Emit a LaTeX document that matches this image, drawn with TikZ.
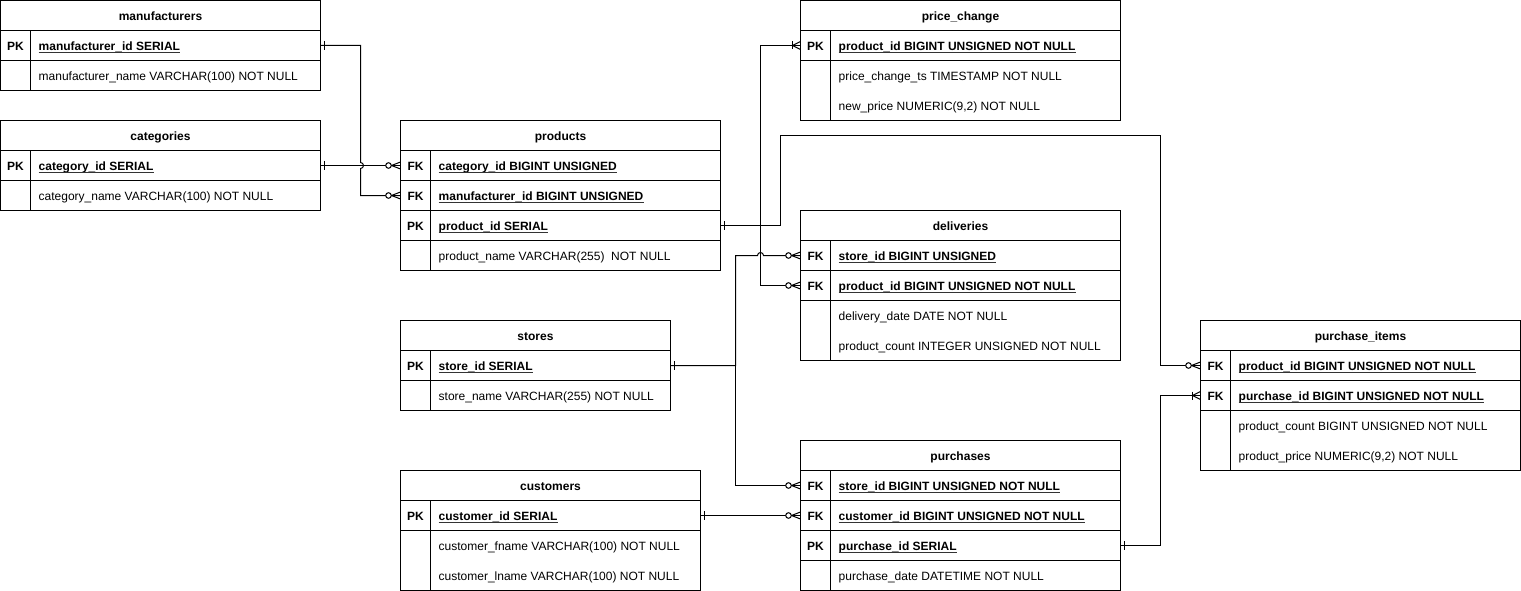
\documentclass[tikz,border=0pt]{standalone}
\usepackage{fontspec}
\setmainfont{Liberation Sans}
\usetikzlibrary{calc}
\newcommand{\fs}{\fontsize{12}{14}\selectfont}
\tikzset{
  cell/.style={draw, line width=1pt, minimum height=30pt, inner sep=0pt, outer sep=0pt},
  cellii/.style={cell, minimum height=60pt},
  txt/.style={inner sep=0pt, font=\fs},
  btxt/.style={inner sep=0pt, font=\fs\bfseries},
  conn/.style={line width=1pt},
  mk/.style={line width=1pt},
}
% header: name, x, y, width, title
\newcommand{\erhead}[5]{%
  \node[cell, minimum width=#4pt, anchor=north west] (#1) at (#2,#3) {};
  \node[btxt, anchor=base] (#1-t) at ($(#1.center)+(0,5.2)$) {#5};}
% key row: name, x, y, value width, key, text
\newcommand{\erkey}[6]{%
  \node[cell, minimum width=30pt, anchor=north west] (#1-k) at (#2,#3) {};
  \node[btxt, anchor=base] (#1-kt) at ($(#1-k.center)+(0,5.2)$) {#5};
  \node[cell, minimum width=#4pt, anchor=north west] (#1) at (#1-k.north east) {};
  \node[btxt, anchor=base west] (#1-t) at ($(#1.west)+(8,5.2)$) {#6};
  \draw[line width=0.9pt, black!80] ($(#1-t.base west)+(0,2.2)$) -- ($(#1-t.base east)+(0,2.2)$);}
% one-line attribute row: name, x, y, value width, text
\newcommand{\erattr}[5]{%
  \node[cell, minimum width=30pt, anchor=north west] (#1-k) at (#2,#3) {};
  \node[cell, minimum width=#4pt, anchor=north west] (#1) at (#1-k.north east) {};
  \node[txt, anchor=base west] (#1-t) at ($(#1.west)+(8,5.2)$) {#5};}
% two-line attribute row: name, x, y, value width, text1, text2
\newcommand{\erattrii}[6]{%
  \node[cellii, minimum width=30pt, anchor=north west] (#1-k) at (#2,#3) {};
  \node[cellii, minimum width=#4pt, anchor=north west] (#1) at (#1-k.north east) {};
  \node[txt, anchor=base west] (#1-ta) at ($(#1.north west)+(8,20.2)$) {#5};
  \node[txt, anchor=base west] (#1-tb) at ($(#1.north west)+(8,50.2)$) {#6};}
% markers
\newcommand{\zmany}[1]{%
  \draw[mk] ($(#1)+(-9,0)$) -- ($(#1)+(0,-3.5)$) ($(#1)+(-9,0)$) -- ($(#1)+(0,3.5)$);
  \draw[mk, fill=white] ($(#1)+(-12,0)$) circle[radius=2.8pt];}
\newcommand{\omany}[1]{%
  \draw[mk] ($(#1)+(-8,0)$) -- ($(#1)+(0,-4)$) ($(#1)+(-8,0)$) -- ($(#1)+(0,4)$);
  \draw[mk] ($(#1)+(-8,-4)$) -- ($(#1)+(-8,4)$);}
\newcommand{\onetick}[1]{%
  \draw[mk] ($(#1)+(4,-4.5)$) -- ($(#1)+(4,4.5)$);}
\begin{document}
\begin{tikzpicture}[x=1pt, y=-1pt]
\useasboundingbox (-0.5,-0.5) rectangle (1520.5,590.5);

% manufacturers
\erhead{man}{0}{0}{320}{manufacturers}
\erkey{man-pk}{0}{30}{290}{PK}{manufacturer\_id SERIAL}
\erattr{man-a}{0}{60}{290}{manufacturer\_name VARCHAR(100) NOT NULL}

% categories
\erhead{cat}{0}{120}{320}{categories}
\erkey{cat-pk}{0}{150}{290}{PK}{category\_id SERIAL}
\erattr{cat-a}{0}{180}{290}{category\_name VARCHAR(100) NOT NULL}

% products
\erhead{prd}{400}{120}{320}{products}
\erkey{prd-cat}{400}{150}{290}{FK}{category\_id BIGINT UNSIGNED}
\erkey{prd-mf}{400}{180}{290}{FK}{manufacturer\_id BIGINT UNSIGNED}
\erkey{prd-pk}{400}{210}{290}{PK}{product\_id SERIAL}
\erattr{prd-a}{400}{240}{290}{product\_name VARCHAR(255)~ NOT NULL}

% price_change
\erhead{pc}{800}{0}{320}{price\_change}
\erkey{pc-pk}{800}{30}{290}{PK}{product\_id BIGINT UNSIGNED NOT NULL}
\erattrii{pc-a}{800}{60}{290}{price\_change\_ts TIMESTAMP NOT NULL}{new\_price NUMERIC(9,2) NOT NULL}

% deliveries
\erhead{del}{800}{210}{320}{deliveries}
\erkey{del-store}{800}{240}{290}{FK}{store\_id BIGINT UNSIGNED}
\erkey{del-prod}{800}{270}{290}{FK}{product\_id BIGINT UNSIGNED NOT NULL}
\erattrii{del-a}{800}{300}{290}{delivery\_date DATE NOT NULL}{product\_count INTEGER UNSIGNED NOT NULL}

% stores
\erhead{st}{400}{320}{270}{stores}
\erkey{st-pk}{400}{350}{240}{PK}{store\_id SERIAL}
\erattr{st-a}{400}{380}{240}{store\_name VARCHAR(255) NOT NULL}

% customers
\erhead{cus}{400}{470}{300}{customers}
\erkey{cus-pk}{400}{500}{270}{PK}{customer\_id SERIAL}
\erattrii{cus-a}{400}{530}{270}{customer\_fname VARCHAR(100) NOT NULL}{customer\_lname VARCHAR(100) NOT NULL}

% purchases
\erhead{pur}{800}{440}{320}{purchases}
\erkey{pur-store}{800}{470}{290}{FK}{store\_id BIGINT UNSIGNED NOT NULL}
\erkey{pur-cust}{800}{500}{290}{FK}{customer\_id BIGINT UNSIGNED NOT NULL}
\erkey{pur-pk}{800}{530}{290}{PK}{purchase\_id SERIAL}
\erattr{pur-a}{800}{560}{290}{purchase\_date DATETIME NOT NULL}

% purchase_items
\erhead{pi}{1200}{320}{320}{purchase\_items}
\erkey{pi-prod}{1200}{350}{290}{FK}{product\_id BIGINT UNSIGNED NOT NULL}
\erkey{pi-pur}{1200}{380}{290}{FK}{purchase\_id BIGINT UNSIGNED NOT NULL}
\erattrii{pi-a}{1200}{410}{290}{product\_count BIGINT UNSIGNED NOT NULL}{product\_price NUMERIC(9,2) NOT NULL}

% ---- connectors ----
% manufacturers -> products (hop over categories line)
\coordinate (a1) at ($(man-pk.east)+(40,0)$);
\draw[conn] (man-pk.east) -- (a1) -- ($(a1 |- cat-pk.east)+(0,-3)$)
  arc[start angle=90, end angle=-90, radius=3pt] -- (a1 |- prd-mf-k.west) -- (prd-mf-k.west);
% categories -> products
\draw[conn] (cat-pk.east) -- (prd-cat-k.west);
% products -> price_change / deliveries / purchase_items
\coordinate (c1) at ($(prd-pk.east)+(40,0)$);
\coordinate (e1) at ($(prd-pk.east)+(60,0)$);
\coordinate (e3) at ($(pi-prod-k.west)+(-40,0)$);
\draw[conn] (prd-pk.east) -- (e1) -- (e1 |- prd.center) -- (prd.center -| e3) -- (e3) -- (pi-prod-k.west);
\draw[conn] (c1) |- (pc-pk-k.west);
\draw[conn] (c1) |- (del-prod-k.west);
% stores -> deliveries (hop) / purchases
\coordinate (f1) at ($(st-pk.east)+(65,0)$);
\draw[conn] (st-pk.east) -- (f1) -- (f1 |- del-store-k.west) -- ($(c1 |- del-store-k.west)+(-3,0)$)
  arc[start angle=180, end angle=0, radius=3pt] -- (del-store-k.west);
\draw[conn] (f1) |- (pur-store-k.west);
% customers -> purchases
\draw[conn] (cus-pk.east) -- (pur-cust-k.west);
% purchases -> purchase_items
\coordinate (i1) at ($(pur-pk.east)+(40,0)$);
\draw[conn] (pur-pk.east) -- (i1) |- (pi-pur-k.west);

% ---- markers ----
\onetick{man-pk.east}
\onetick{cat-pk.east}
\onetick{prd-pk.east}
\onetick{st-pk.east}
\onetick{cus-pk.east}
\onetick{pur-pk.east}
\zmany{prd-cat-k.west}
\zmany{prd-mf-k.west}
\omany{pc-pk-k.west}
\zmany{del-store-k.west}
\zmany{del-prod-k.west}
\zmany{pi-prod-k.west}
\omany{pi-pur-k.west}
\zmany{pur-store-k.west}
\zmany{pur-cust-k.west}
\end{tikzpicture}
\end{document}
